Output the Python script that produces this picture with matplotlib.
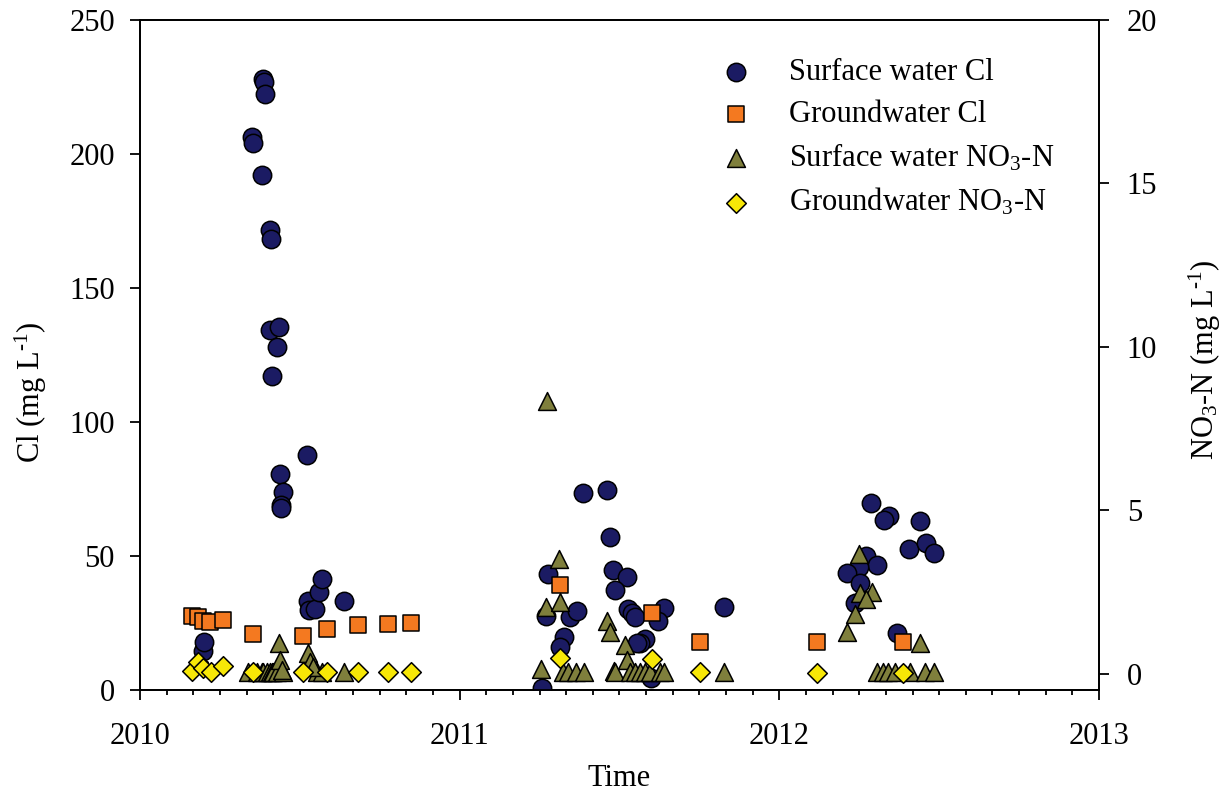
import matplotlib
matplotlib.use("Agg")
import matplotlib.pyplot as plt
import numpy as np
from matplotlib.ticker import MultipleLocator

plt.rcParams['font.family'] = ['Liberation Serif', 'DejaVu Serif']
plt.rcParams['mathtext.fontset'] = 'custom'
plt.rcParams['mathtext.rm'] = 'Liberation Serif'
plt.rcParams['mathtext.it'] = 'Liberation Serif:italic'
plt.rcParams['font.size'] = 22

# ---- data (time as decimal year) ----
sw_cl_t = [2010.197, 2010.200, 2010.350, 2010.354, 2010.382, 2010.385, 2010.388,
           2010.391, 2010.407, 2010.410, 2010.407, 2010.435, 2010.429, 2010.413,
           2010.522, 2010.438, 2010.447, 2010.441, 2010.441, 2010.526, 2010.529,
           2010.547, 2010.560, 2010.568, 2010.639,
           2011.257, 2011.275, 2011.270, 2011.345, 2011.366, 2011.327, 2011.314,
           2011.387, 2011.462, 2011.470, 2011.481, 2011.523, 2011.486, 2011.528,
           2011.538, 2011.548, 2011.639, 2011.621, 2011.580, 2011.564, 2011.554,
           2011.598, 2011.828,
           2012.286, 2012.344, 2012.327, 2012.440, 2012.407, 2012.459, 2012.484,
           2012.271, 2012.305, 2012.248, 2012.213, 2012.252, 2012.236, 2012.369]
sw_cl = [14.7, 18.0, 206.5, 204.0, 192.2, 228.0, 226.9,
         222.3, 171.6, 168.3, 134.3, 135.3, 128.1, 117.3,
         87.7, 80.5, 74.0, 69.0, 67.8, 33.3, 29.9,
         30.2, 36.5, 41.3, 33.3,
         0.9, 43.3, 27.6, 27.4, 29.5, 19.9, 16.2,
         73.4, 74.6, 57.2, 44.8, 42.1, 37.3, 30.1,
         28.6, 27.4, 30.5, 25.7, 18.9, 17.6, 17.4,
         4.4, 31.1,
         69.9, 64.9, 63.4, 63.1, 52.5, 55.0, 51.0,
         50.0, 46.6, 45.8, 43.8, 40.0, 32.6, 21.4]

gw_cl_t = [2010.162, 2010.182, 2010.196, 2010.219, 2010.259, 2010.354, 2010.509,
           2010.584, 2010.681, 2010.777, 2010.848,
           2011.314, 2011.601, 2011.752, 2012.117, 2012.388]
gw_cl = [27.6, 27.1, 25.9, 25.5, 26.1, 20.9, 20.1,
         22.6, 24.3, 24.6, 25.1,
         39.2, 28.8, 18.0, 18.0, 18.0]

sw_no3_t = [2010.339, 2010.365, 2010.381, 2010.385, 2010.396, 2010.407, 2010.412,
            2010.417, 2010.428, 2010.448, 2010.553, 2010.568, 2010.638,
            2010.435, 2010.438, 2010.443, 2010.526, 2010.532, 2010.540,
            2011.274, 2011.254, 2011.270, 2011.312, 2011.314,
            2011.323, 2011.339, 2011.364, 2011.389,
            2011.462, 2011.470, 2011.483, 2011.486, 2011.517, 2011.523,
            2011.533, 2011.548, 2011.564, 2011.580, 2011.595, 2011.627, 2011.639,
            2011.828,
            2012.248, 2012.252, 2012.289, 2012.271, 2012.237, 2012.213, 2012.440,
            2012.305, 2012.325, 2012.341, 2012.362, 2012.409, 2012.456, 2012.484]
sw_no3 = [0.07, 0.07, 0.07, 0.07, 0.07, 0.07, 0.07,
          0.07, 0.07, 0.07, 0.07, 0.07, 0.07,
          0.94, 0.43, 0.12, 0.63, 0.38, 0.22,
          8.34, 0.15, 2.04, 3.51, 2.19,
          0.07, 0.07, 0.07, 0.07,
          1.63, 1.29, 0.09, 0.06, 0.89, 0.43,
          0.07, 0.07, 0.07, 0.07, 0.07, 0.07, 0.07,
          0.07,
          3.67, 2.49, 2.52, 2.28, 1.83, 1.29, 0.96,
          0.07, 0.07, 0.07, 0.07, 0.07, 0.07, 0.07]

gw_no3_t = [2010.162, 2010.182, 2010.197, 2010.221, 2010.259, 2010.354, 2010.509,
            2010.586, 2010.681, 2010.777, 2010.848,
            2011.314, 2011.601, 2011.752, 2012.117, 2012.388]
gw_no3 = [0.10, 0.38, 0.17, 0.07, 0.25, 0.05, 0.05,
          0.05, 0.05, 0.05, 0.05,
          0.48, 0.46, 0.05, 0.04, 0.04]

x_major = [2010, 2011, 2012, 2013]
cl_ticks = [0, 50, 100, 150, 200, 250]
no3_ticks = [0, 5, 10, 15, 20]

c_navy = '#1b1b63'
c_orange = '#f47920'
c_olive = '#7f7f3c'
c_yellow = '#f7e707'

W, H = 1228, 792
fig = plt.figure(figsize=(W / 100, H / 100), dpi=100)
ax = fig.add_axes([140 / W, 102 / H, 959 / W, 670 / H])
ax2 = ax.twinx()

ax.scatter(sw_cl_t, sw_cl, s=175, marker='o', facecolor=c_navy, edgecolor='black',
           linewidth=1.1, zorder=3, label='Surface water Cl')
ax.scatter(gw_cl_t, gw_cl, s=140, marker='s', facecolor=c_orange, edgecolor='black',
           linewidth=1.1, zorder=4, label='Groundwater Cl')
ax2.scatter(sw_no3_t, sw_no3, s=165, marker='^', facecolor=c_olive, edgecolor='black',
            linewidth=1.1, zorder=3, label='Surface water NO$_3$-N')
ax2.scatter(gw_no3_t, gw_no3, s=100, marker='D', facecolor=c_yellow, edgecolor='black',
            linewidth=1.1, zorder=4, label='Groundwater NO$_3$-N')

ax.set_xlim(2010, 2013)
ax.set_ylim(0, 250)
ax2.set_ylim(-0.49, 20)

ax.set_xticks(x_major)
ax.set_xticklabels([str(v) for v in x_major])
ax.xaxis.set_minor_locator(MultipleLocator(1 / 12))
ax.set_yticks(cl_ticks)
ax2.set_yticks(no3_ticks)

for a in (ax, ax2):
    for sp in a.spines.values():
        sp.set_linewidth(1.3)
ax.tick_params(axis='both', which='major', direction='out', length=7, width=1.3, pad=11)
ax.tick_params(axis='x', which='minor', direction='out', length=3.8, width=1.3)
ax.tick_params(axis='x', which='major', pad=16)
ax.tick_params(axis='y', which='minor', left=False)
ax2.tick_params(axis='y', which='major', direction='out', length=7, width=1.3, pad=13)

ax.set_xlabel('Time')
ax.xaxis.set_label_coords(0.5, -0.111)
ax.set_ylabel('Cl (mg L$^{\\text{-1}}$)')
ax.yaxis.set_label_coords(-0.095, 0.445)
ax2.set_ylabel('NO$_3$-N (mg L$^{\\text{-1}}$)', rotation=90, va='top')
ax2.yaxis.set_label_coords(1.092, 0.493)

h1, l1 = ax.get_legend_handles_labels()
h2, l2 = ax2.get_legend_handles_labels()
leg = ax2.legend(h1 + h2, l1 + l2, loc='upper left',
                 bbox_to_anchor=(705 / W, 1 - 43 / H), bbox_transform=fig.transFigure,
                 frameon=False, borderpad=0, handlelength=1.0, handletextpad=1.25,
                 labelspacing=0.42, scatterpoints=1, fontsize=22)

fig.savefig('out.png', dpi=100)
